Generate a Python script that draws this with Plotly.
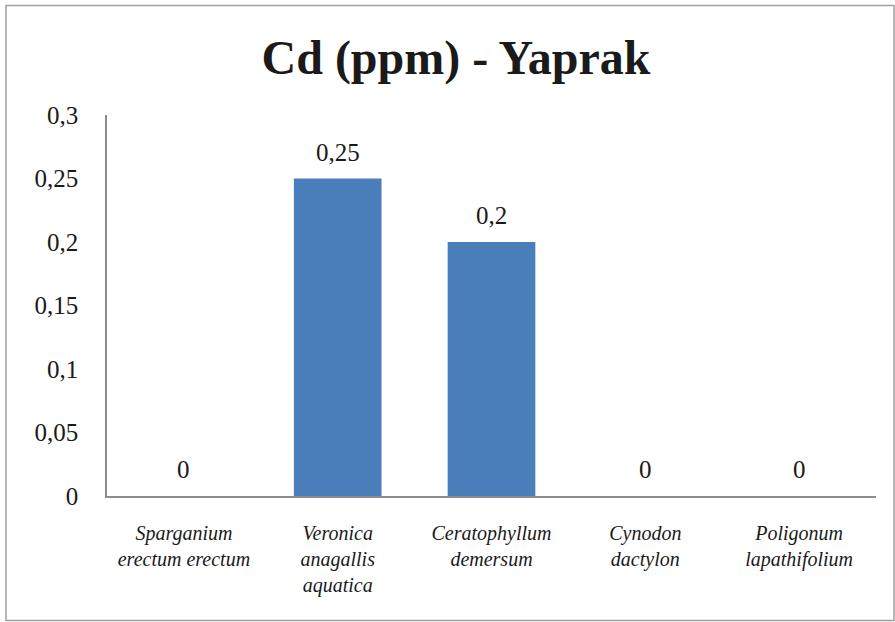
import plotly.graph_objects as go

categories = ["Sparganium<br>erectum erectum", "Veronica<br>anagallis<br>aquatica",
              "Ceratophyllum<br>demersum", "Cynodon<br>dactylon", "Poligonum<br>lapathifolium"]
values = [0, 0.25, 0.2, 0, 0]
value_labels = ["0", "0,25", "0,2", "0", "0"]
tick_vals = [0, 0.05, 0.1, 0.15, 0.2, 0.25, 0.3]
tick_text = ["0", "0,05", "0,1", "0,15", "0,2", "0,25", "0,3"]

FONT = "Liberation Serif"
TXT = "#1a1a1a"

xcats = [f"<i>{c}</i>" for c in categories]

fig = go.Figure()
fig.add_trace(go.Bar(
    x=xcats, y=values,
    marker=dict(color="#4A7EBB", line=dict(width=0)),
))
for xc, v, lab in zip(xcats, values, value_labels):
    fig.add_annotation(x=xc, y=v, text=lab, showarrow=False, yanchor="bottom",
                       yshift=11, font=dict(family=FONT, size=25, color=TXT))

W, H = 895, 622
L, R, T, B = 107, 19, 115, 126
pw, ph = W - L - R, H - T - B

def px(x):
    return (x - L) / pw

def py(y):
    return (H - B - y) / ph

fig.update_layout(
    width=W, height=H,
    margin=dict(l=L, r=R, t=T, b=B),
    paper_bgcolor="white", plot_bgcolor="white",
    bargap=0.43, showlegend=False,
    title=dict(text="<b>Cd (ppm) - Yaprak</b>", x=456 / W, xanchor="center",
               y=1 - 57 / H, yanchor="middle",
               font=dict(family=FONT, size=48, color=TXT)),
    font=dict(family=FONT, color=TXT),
    shapes=[dict(type="rect", xref="paper", yref="paper",
                 x0=px(6), x1=px(894), y0=py(620.5), y1=py(5.5),
                 line=dict(color="#a0a0a0", width=1.5), fillcolor="rgba(0,0,0,0)")],
)
fig.update_xaxes(showline=True, linecolor="#8c8c8c", linewidth=1.5,
                 showgrid=False, ticks="outside", tickcolor="rgba(0,0,0,0)", ticklen=18,
                 tickfont=dict(family=FONT, size=20, color=TXT))
fig.update_yaxes(range=[0, 0.3], showline=True, linecolor="#8c8c8c", linewidth=1.5,
                 showgrid=False, zeroline=False, tickvals=tick_vals, ticktext=tick_text,
                 ticks="outside", tickcolor="rgba(0,0,0,0)", ticklen=22,
                 tickfont=dict(family=FONT, size=25, color=TXT))

fig.write_html("out.html")
